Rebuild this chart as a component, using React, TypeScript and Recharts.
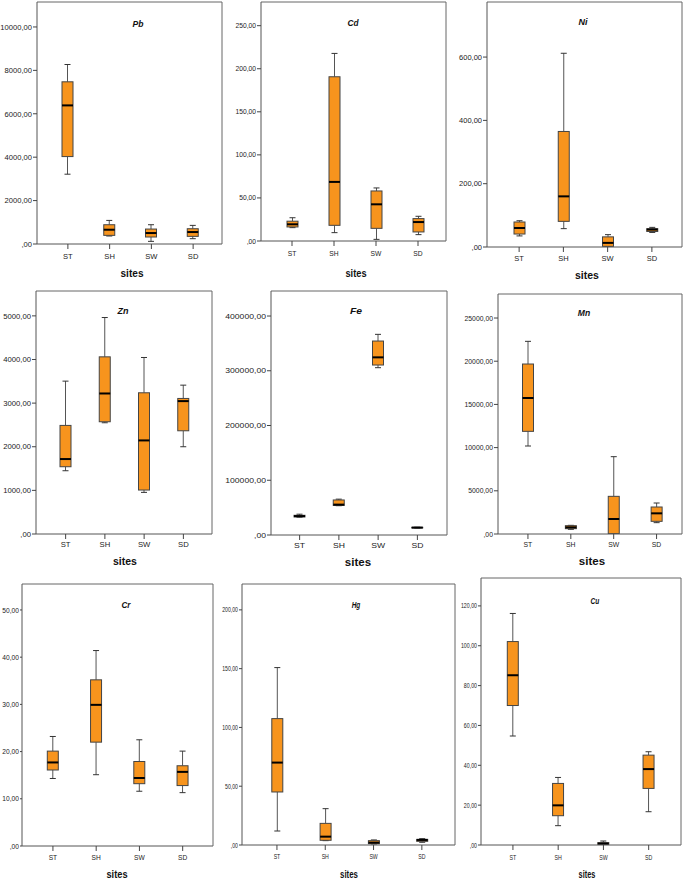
import { Bar, ComposedChart, XAxis, YAxis } from 'recharts';

const sites = ['ST', 'SH', 'SW', 'SD'];

// [min, q1, median, q3, max] for each site
const pbStats = [[3216, 4028, 6386, 7473, 8270], [368, 398, 658, 888, 1087], [122, 322, 505, 689, 888], [245, 352, 551, 704, 858]];
const cdStats = [[15.5, 16.3, 19.4, 23, 27], [9.7, 18.2, 68.6, 190.7, 217.8], [1.9, 14.7, 42.6, 58.1, 61.6], [7.4, 10.5, 22, 26, 28.7]];
const niStats = [[35, 41, 60, 79, 83], [58, 81, 160, 365, 612], [0, 2, 13, 32, 39], [46, 49, 55, 58, 62]];
const znStats = [[1450, 1542, 1718, 2489, 3504], [2550, 2573, 3221, 4061, 4962], [954, 1008, 2145, 3237, 4046], [2000, 2366, 3046, 3107, 3412]];
const feStats = [[32500, 33000, 34500, 36000, 38000], [53500, 54000, 55500, 64000, 65500], [305600, 310500, 324500, 354300, 366500], [12800, 13000, 13500, 14000, 14200]];
const mnStats = [[10185, 11883, 15740, 19676, 22300], [540, 617, 772, 965, 1003], [0, 39, 1736, 4360, 8950], [1312, 1466, 2392, 3125, 3588]];
const crStats = [[14.3, 16.1, 17.7, 20.1, 23.2], [15.1, 22.0, 29.9, 35.2, 41.4], [11.6, 13.2, 14.4, 17.9, 22.5], [11.3, 12.8, 15.7, 17.0, 20.1]];
const hgStats = [[11.9, 45.1, 70.1, 107.5, 150.9], [3.7, 4.0, 7.1, 18.4, 30.9], [0.9, 1.1, 2.0, 3.7, 4.3], [2.3, 3.1, 4.3, 4.8, 5.4]];
const cuStats = [[54.7, 70.0, 85.2, 102.1, 116.2], [9.7, 14.7, 19.9, 30.9, 33.9], [0, 0.3, 0.7, 1.2, 2.0], [16.7, 28.4, 38.1, 45.1, 46.8]];

const pbTicks = [0, 2000, 4000, 6000, 8000, 10000];
const cdTicks = [0, 50, 100, 150, 200, 250];
const niTicks = [0, 200, 400, 600];
const znTicks = [0, 1000, 2000, 3000, 4000, 5000];
const feTicks = [0, 100000, 200000, 300000, 400000];
const mnTicks = [0, 5000, 10000, 15000, 20000, 25000];
const crTicks = [0, 10, 20, 30, 40, 50];
const hgTicks = [0, 50, 100, 150, 200];
const cuTicks = [0, 20, 40, 60, 80, 100, 120];

const FONT = "'Liberation Sans', Arial, sans-serif";
const XH = 40;

// layout of each panel: plot frame (L,T,R,B), y-axis width, text sizes
const panels = [
  { title: 'Pb', stats: pbStats, ticks: pbTicks, top: 11150, L: 37, T: 2, R: 222, B: 244, padL: 10, padR: 8, yw: 37, yt: 4, fs: 8, sx: 0.95, tickD: 12, site: [132, 273], sSx: 0.96, head: [138, 24] },
  { title: 'Cd', stats: cdStats, ticks: cdTicks, top: 277.5, L: 261, T: 2, R: 446, B: 241, padL: 10, padR: 7, yw: 32, yt: 4, fs: 7.3, sx: 0.92, tickD: 12, site: [356, 273], sSx: 0.88, head: [353, 23] },
  { title: 'Ni', stats: niStats, ticks: niTicks, top: 774, L: 487, T: 2, R: 682, B: 247, padL: 10, padR: 8, yw: 34, yt: 4, fs: 7.5, sx: 1, tickD: 11, site: [587, 275], sSx: 1, head: [583, 22] },
  { title: 'Zn', stats: znStats, ticks: znTicks, top: 5570, L: 36, T: 291, R: 212, B: 534, padL: 10, padR: 9, yw: 36, yt: 4, fs: 7.7, sx: 1, tickD: 10, site: [125, 561], sSx: 1, head: [123, 311] },
  { title: 'Fe', stats: feStats, ticks: feTicks, top: 445700, L: 271, T: 291, R: 447, B: 535, padL: 9, padR: 10, yw: 48, yt: 4, fs: 7.5, sx: 1.15, tickD: 10, site: [358, 562], sSx: 1.1, head: [356, 311] },
  { title: 'Mn', stats: mnStats, ticks: mnTicks, top: 27780, L: 498, T: 294, R: 682, B: 534, padL: 8.5, padR: 4, yw: 45, yt: 4, fs: 7.2, sx: 0.95, tickD: 10, site: [592, 561], sSx: 1.1, head: [584, 313] },
  { title: 'Cr', stats: crStats, ticks: crTicks, top: 55.5, L: 22, T: 584, R: 213, B: 846, padL: 9.3, padR: 8.7, yw: 22, yt: 2, fs: 7.4, sx: 0.9, tickD: 11, site: [117, 874], sSx: 0.88, head: [126, 605] },
  { title: 'Hg', stats: hgStats, ticks: hgTicks, top: 222, L: 242, T: 584, R: 455, B: 845, padL: 10.8, padR: 9, yw: 20, yt: 3, fs: 7.2, sx: 0.72, tickD: 11, site: [349, 874], sSx: 0.75, head: [356, 605] },
  { title: 'Cu', stats: cuStats, ticks: cuTicks, top: 134, L: 481, T: 578, R: 681, B: 845, padL: 9.3, padR: 9.7, yw: 30, yt: 3, fs: 7.2, sx: 0.73, tickD: 12, site: [587, 874], sSx: 0.7, head: [595, 601] },
];

const fmt = (v: number) => (v === 0 ? ',00' : v.toFixed(2).replace('.', ','));

const squeeze = (x: number, sx: number) => `translate(${x},0) scale(${sx},1) translate(${-x},0)`;

function BoxShape(props: any) {
  const { x, y, width, height, payload } = props;
  const [mn, q1, med, q3, mx] = payload.s;
  const py = (v: number) => y + (height * (mx - v)) / (mx - mn);
  const cx = x + width / 2;
  const cap = 3;
  return (
    <g>
      <line x1={cx} x2={cx} y1={py(mx)} y2={py(q3)} stroke="#555" />
      <line x1={cx} x2={cx} y1={py(q1)} y2={py(mn)} stroke="#555" />
      <line x1={cx - cap} x2={cx + cap} y1={py(mx)} y2={py(mx)} stroke="#333" />
      <line x1={cx - cap} x2={cx + cap} y1={py(mn)} y2={py(mn)} stroke="#333" />
      <rect x={x} y={py(q3)} width={width} height={Math.max(py(q1) - py(q3), 0.5)} fill="#F7941D" stroke="#444" />
      <line x1={x} x2={x + width} y1={py(med)} y2={py(med)} stroke="#000" strokeWidth={2} />
    </g>
  );
}

function Panel({ p }: { p: (typeof panels)[number] }) {
  const rows = sites.map((site, i) => ({ site, s: p.stats[i], min: p.stats[i][0], max: p.stats[i][4] }));
  const w = p.yw + (p.R - p.L) + 1;
  const h = 1 + (p.B - p.T) + XH;
  return (
    <>
      <div style={{ position: 'absolute', left: p.L - p.yw, top: p.T - 1 }}>
        <ComposedChart width={w} height={h} data={rows} margin={{ top: 0, right: 0, bottom: 0, left: 0 }}>
          <XAxis
            xAxisId="b"
            dataKey="site"
            padding={{ left: p.padL, right: p.padR }}
            height={XH}
            interval={0}
            tickSize={5}
            tickMargin={0}
            axisLine={{ stroke: '#555' }}
            tickLine={{ stroke: '#444' }}
            tick={(t: any) => (
              <text x={t.x} y={t.y} dy={p.tickD - 5 + p.fs * 0.36} textAnchor="middle" fontSize={p.fs} fill="#222" fontFamily={FONT} transform={squeeze(t.x, p.sx)}>
                {t.payload.value}
              </text>
            )}
          />
          <XAxis xAxisId="t" dataKey="site" orientation="top" height={1} tick={false} tickLine={false} axisLine={{ stroke: '#666' }} />
          <YAxis
            yAxisId="l"
            domain={[0, p.top]}
            ticks={p.ticks}
            interval={0}
            allowDataOverflow
            width={p.yw}
            tickSize={p.yt}
            tickMargin={1}
            axisLine={{ stroke: '#555' }}
            tickLine={{ stroke: '#444' }}
            tick={(t: any) => (
              <text x={t.x} y={t.y} dy={p.fs * 0.35} textAnchor="end" fontSize={p.fs} fill="#222" fontFamily={FONT} transform={squeeze(t.x, p.sx)}>
                {fmt(t.payload.value)}
              </text>
            )}
          />
          <YAxis yAxisId="r" orientation="right" domain={[0, p.top]} width={1} tick={false} tickLine={false} axisLine={{ stroke: '#666' }} />
          <Bar xAxisId="b" yAxisId="l" dataKey={(d: any) => [d.min, d.max]} barSize={11} shape={<BoxShape />} isAnimationActive={false} />
        </ComposedChart>
      </div>
      <div style={{ position: 'absolute', left: p.head[0], top: p.head[1], transform: `translate(-50%,-50%) scaleX(${p.sx})`, fontFamily: FONT, fontSize: 9, fontStyle: 'italic', fontWeight: 'bold', color: '#111', whiteSpace: 'nowrap', lineHeight: 1 }}>
        {p.title}
      </div>
      <div style={{ position: 'absolute', left: p.site[0], top: p.site[1], transform: `translate(-50%,-50%) scaleX(${p.sSx})`, fontFamily: FONT, fontSize: 10.5, fontWeight: 'bold', color: '#111', whiteSpace: 'nowrap', lineHeight: 1 }}>
        sites
      </div>
    </>
  );
}

export default function App() {
  return (
    <div style={{ position: 'absolute', left: 0, top: 0, width: 685, height: 879, background: '#fff' }}>
      {panels.map((p) => (
        <Panel key={p.title} p={p} />
      ))}
    </div>
  );
}
